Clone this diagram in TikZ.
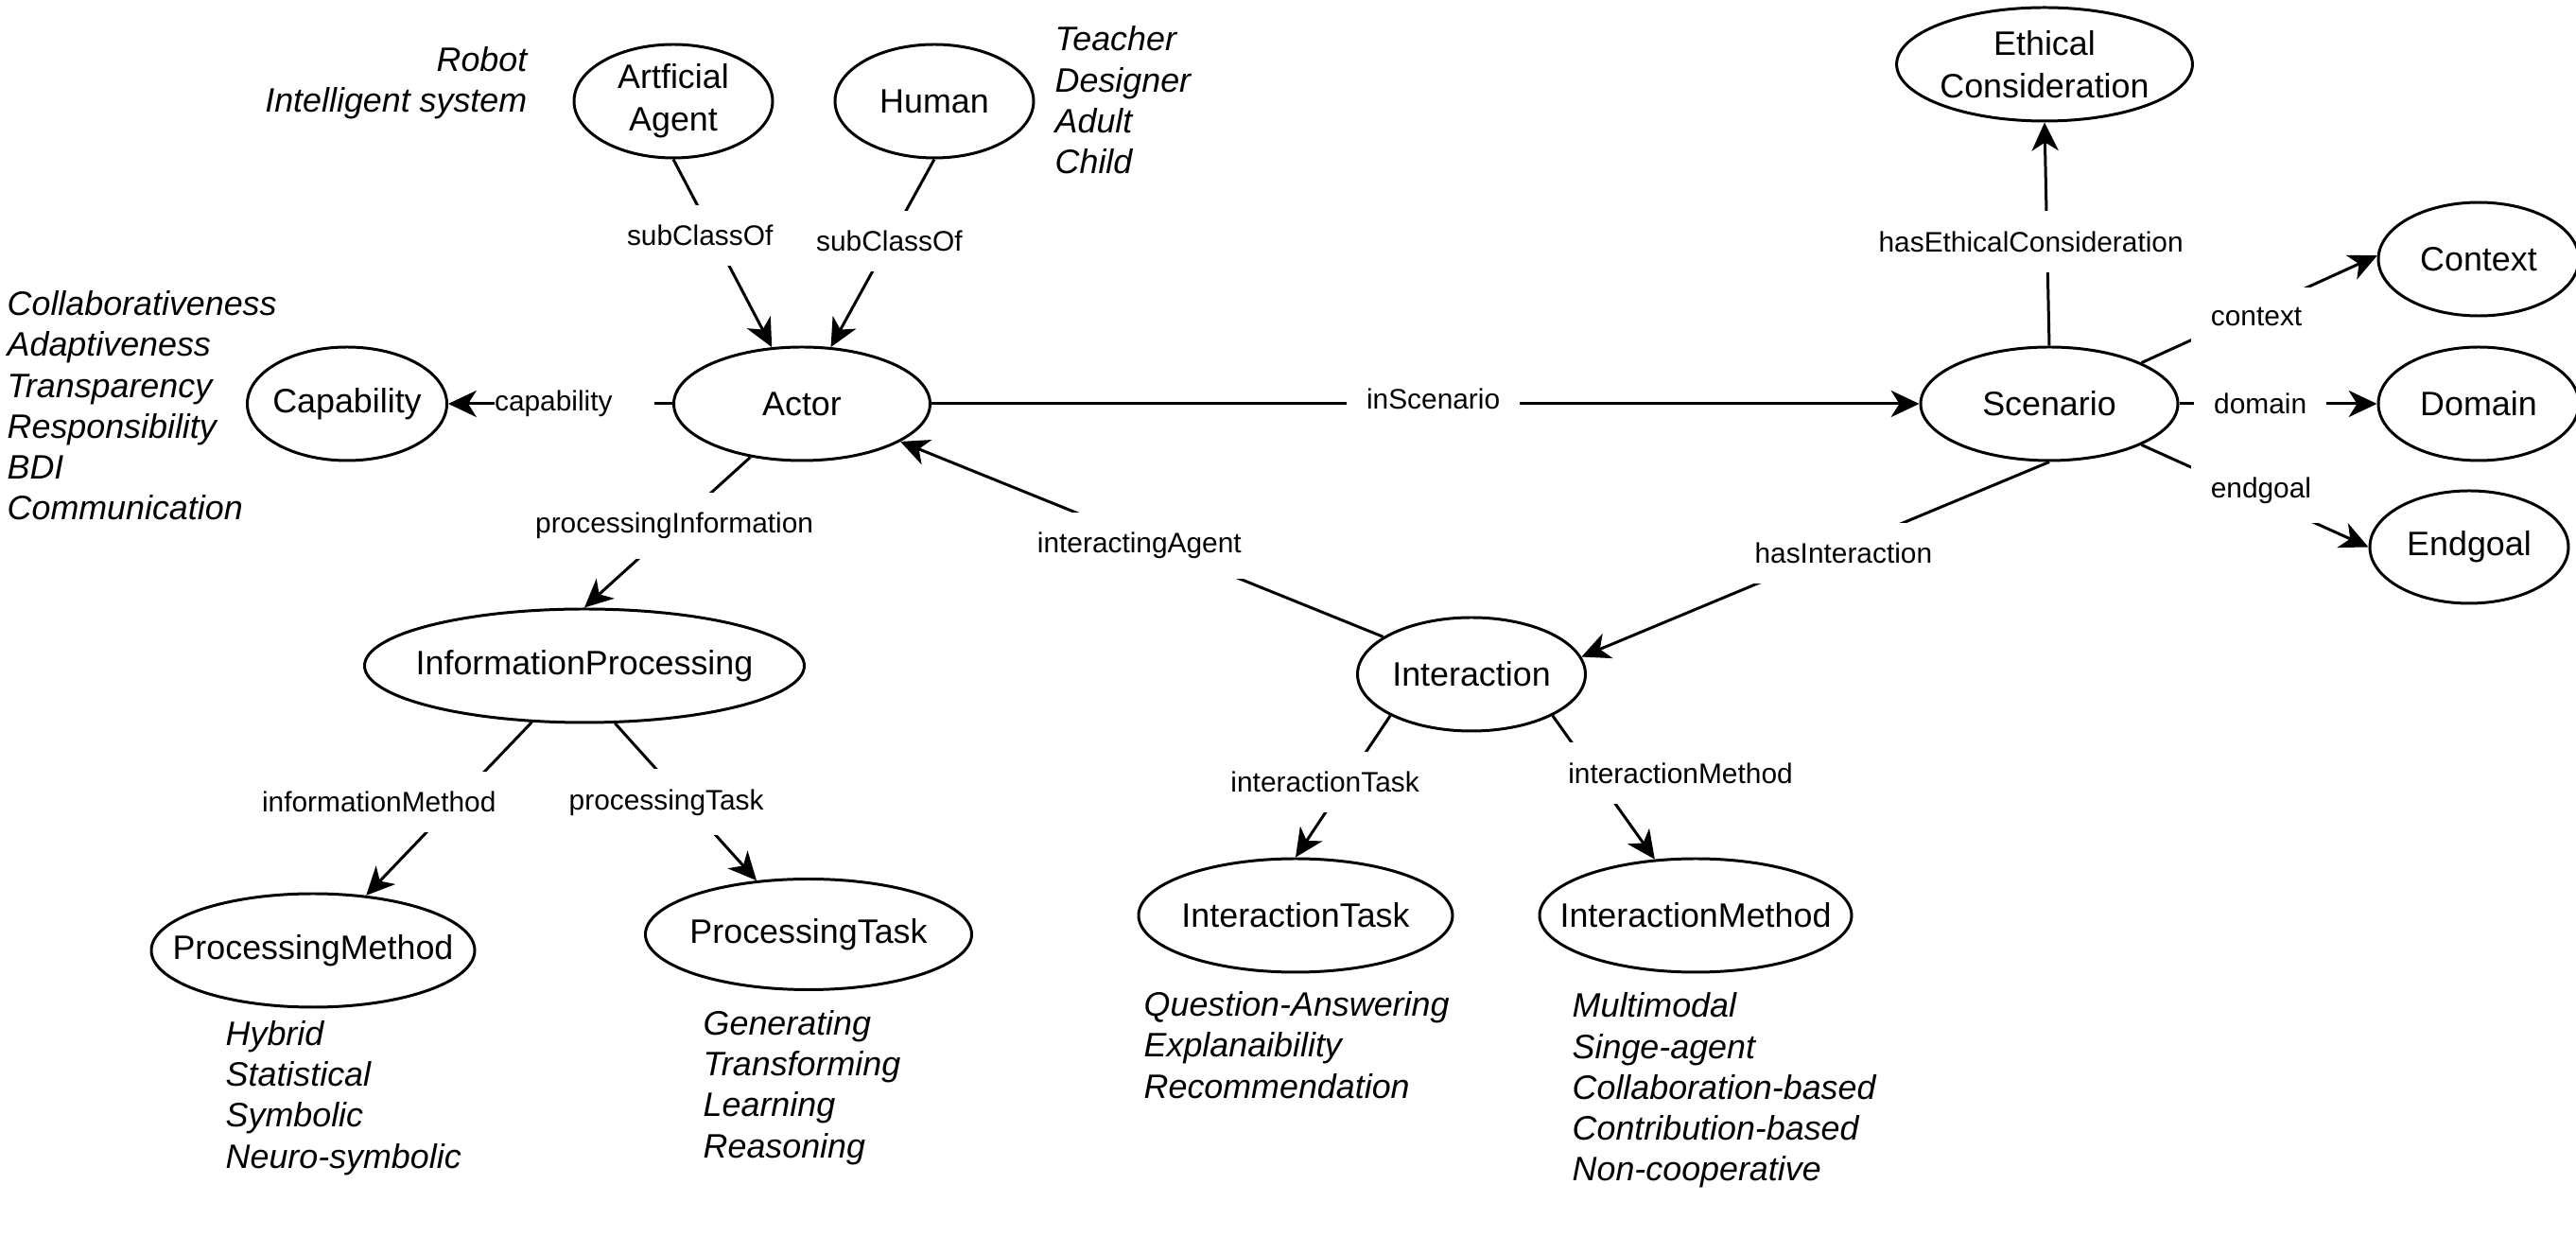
\documentclass[tikz,border=0pt]{standalone}
\usepackage{fontspec}
\setmainfont{Liberation Sans}
\usepackage{tikz}
\usetikzlibrary{positioning,shapes.geometric,arrows.meta}
\newcommand{\ctext}[1]{\makebox[0pt]{#1}}
\tikzset{
  % Specifications for style of nodes:
  base/.style = {
    ellipse,
    draw=black,
    line width=0.85pt,
    inner sep=0pt,
    align=center,
    font=\fontsize{10.2}{12.8}\selectfont
  },
  concept/.style = {
    base,
    minimum width=2.1cm,
    minimum height=1.2cm
  },
  relation/.style = {
    fill=white,
    inner sep=6pt,
    font=\fontsize{8.5}{10}\selectfont
  },
  instances/.style = {
    inner sep=0pt,
    align=left,
    font=\fontsize{10.2}{12.3}\selectfont\itshape
  },
  link/.style = {
    line width=0.85pt,
    -{Stealth[length=8.5pt,width=8pt,inset=2.5pt]}
  },
}

\begin{document}
\begin{tikzpicture}
    \useasboundingbox (0,0) rectangle (27.24,-13.26);
    % Specification of nodes (position, etc.)
    \node[concept] (aa) at (7.12,-1.07)                               {Artficial\\Agent};
    \node[concept, right=0.63cm of aa] (human)                        {\ctext{Human}};
    \node[concept, minimum width=2.71cm] (actor) at (8.48,-4.27)      {\ctext{Actor}};
    \node[concept, minimum width=2.11cm] (capability) at (3.67,-4.27) {\ctext{Capability}};
    \node[concept, minimum width=2.72cm] (scenario) at (21.67,-4.27)  {\ctext{Scenario}};
    \node[concept, minimum width=3.11cm] (ethical) at (21.62,-0.68)   {Ethical\\Consideration};
    \node[concept, minimum width=2.12cm, right=2.09cm of scenario] (domain) {\ctext{Domain}};
    \node[concept, minimum width=2.12cm, above=0.3cm of domain] (context)   {\ctext{Context}};
    \node[concept, minimum height=1.19cm, below=0.29cm of domain, xshift=-0.1cm] (endgoal) {\ctext{Endgoal}};
    \node[concept, minimum width=4.65cm] (infoproc) at (6.18,-7.04)    {\ctext{InformationProcessing}};
    \node[concept, minimum width=2.41cm] (interaction) at (15.56,-7.13) {\ctext{Interaction}};
    \node[concept, minimum width=3.42cm] (procmethod) at (3.31,-10.05) {\ctext{ProcessingMethod}};
    \node[concept, minimum width=3.45cm, minimum height=1.17cm] (proctask) at (8.55,-9.88) {\ctext{ProcessingTask}};
    \node[concept, minimum width=3.32cm] (inttask) at (13.70,-9.68)    {\ctext{InteractionTask}};
    \node[concept, minimum width=3.30cm] (intmethod) at (17.93,-9.68)  {\ctext{InteractionMethod}};
    % Instances
    \node[instances, align=right, anchor=east] (aalist) at (5.58,-0.88) {Robot\\Intelligent system};
    \node[instances, anchor=west] (humanlist) at (11.15,-1.06) {Teacher\\Designer\\Adult\\Child};
    \node[instances, anchor=west] (caplist) at (0.07,-4.29)
      {Collaborativeness\\Adaptiveness\\Transparency\\Responsibility\\BDI\\Communication};
    \node[instances, anchor=west] (pmlist) at (2.38,-11.61) {Hybrid\\Statistical\\Symbolic\\Neuro-symbolic};
    \node[instances, anchor=west] (ptlist) at (7.43,-11.50) {Generating\\Transforming\\Learning\\Reasoning};
    \node[instances, anchor=west] (itlist) at (12.09,-11.05) {Question-Answering\\Explanaibility\\Recommendation};
    \node[instances, anchor=west] (imlist) at (16.62,-11.53)
      {Multimodal\\Singe-agent\\Collaboration-based\\Contribution-based\\Non-cooperative};
    % Specification of edges
    \draw[link] (aa.south) -- node[relation, pos=0.405, xshift=-0.14cm] {subClassOf} (actor.118);
    \draw[link] (human.south) -- node[relation, pos=0.435] {subClassOf} (actor.63);
    \draw[link] (actor.west) -- node[relation, inner xsep=0pt, pos=0.4375] {capability\kern12.5pt} (capability.east);
    \draw[link] (actor.east) -- node[relation, pos=0.508, yshift=0.05cm] {inScenario} (scenario.west);
    \draw[link] (interaction.157) -- node[relation, pos=0.505, yshift=-0.08cm] {interactingAgent} (actor.-21);
    \draw[link] (scenario.south) -- node[relation, pos=0.44, yshift=-0.06cm] {hasInteraction} (interaction.9);
    \draw[link] (scenario.north) -- node[relation, pos=0.466, xshift=-0.17cm] {hasEthicalConsideration} (ethical.south);
    \draw[link] (scenario.24) -- node[relation, pos=0.488, yshift=-0.07cm] {context} (context.178);
    \draw[link] (scenario.east) -- node[relation, pos=0.41] {domain} (domain.west);
    \draw[link] (scenario.-24) -- node[relation, pos=0.527, yshift=0.09cm] {endgoal} (endgoal.west);
    \draw[link] (actor.-134) -- node[relation, pos=0.458] {processingInformation} (infoproc.north);
    \draw[link] (infoproc.-133) -- node[relation, pos=0.46, xshift=-0.81cm] {informationMethod} (procmethod.46);
    \draw[link] (infoproc.-62) -- node[relation, pos=0.503, xshift=-0.21cm] {processingTask} (proctask.134.5);
    \draw[link] (interaction.-153) -- node[relation, pos=0.47, xshift=-0.22cm] {interactionTask} (inttask.north);
    \draw[link] (interaction.-27) -- node[relation, pos=0.4, xshift=0.92cm] {interactionMethod} (intmethod.126);
\end{tikzpicture}
\end{document}
